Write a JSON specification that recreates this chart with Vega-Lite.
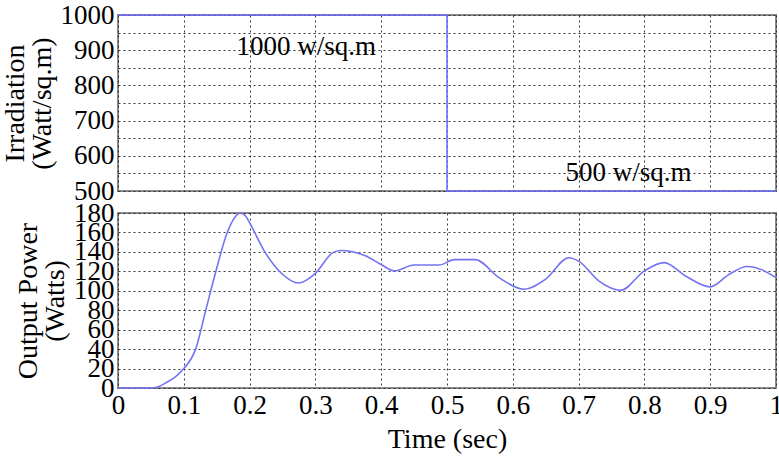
{
  "$schema": "https://vega.github.io/schema/vega-lite/v6.json",
  "padding": {"left": 0, "top": 0, "right": 2, "bottom": 2},
  "background": "white",
  "spacing": 22,
  "bounds": "flush",
  "datasets": {
    "irr": [
      {"t": 0, "v": 1000},
      {"t": 0.5, "v": 1000},
      {"t": 0.5, "v": 500},
      {"t": 1, "v": 500}
    ],
    "notes": [
      {"t": 0.18, "v": 909, "label": "1000 w/sq.m"},
      {"t": 0.68, "v": 551, "label": "500 w/sq.m"}
    ],
    "power": [
      {"t": 0, "p": 0},
      {"t": 0.05, "p": 0},
      {"t": 0.06, "p": 1},
      {"t": 0.072, "p": 5},
      {"t": 0.088, "p": 12},
      {"t": 0.1, "p": 20},
      {"t": 0.118, "p": 40},
      {"t": 0.133, "p": 79},
      {"t": 0.148, "p": 118},
      {"t": 0.166, "p": 160},
      {"t": 0.178, "p": 176},
      {"t": 0.186, "p": 180},
      {"t": 0.195, "p": 176},
      {"t": 0.2, "p": 170},
      {"t": 0.224, "p": 139},
      {"t": 0.25, "p": 117},
      {"t": 0.274, "p": 108},
      {"t": 0.3, "p": 118},
      {"t": 0.326, "p": 139},
      {"t": 0.338, "p": 141.5},
      {"t": 0.376, "p": 136},
      {"t": 0.4, "p": 127},
      {"t": 0.42, "p": 120.5},
      {"t": 0.45, "p": 126.5},
      {"t": 0.488, "p": 126.5},
      {"t": 0.511, "p": 132},
      {"t": 0.543, "p": 132},
      {"t": 0.579, "p": 113.5},
      {"t": 0.617, "p": 101.5},
      {"t": 0.65, "p": 112},
      {"t": 0.685, "p": 134},
      {"t": 0.7, "p": 130.5},
      {"t": 0.731, "p": 110},
      {"t": 0.764, "p": 100.5},
      {"t": 0.8, "p": 120.5},
      {"t": 0.83, "p": 129},
      {"t": 0.863, "p": 115},
      {"t": 0.9, "p": 104},
      {"t": 0.929, "p": 117},
      {"t": 0.956, "p": 125},
      {"t": 0.979, "p": 121.5},
      {"t": 1.0, "p": 113.5}
    ]
  },
  "vconcat": [
    {
      "width": 658,
      "height": 176,
      "encoding": {
        "x": {"field": "t", "type": "quantitative", "scale": {"domain": [0, 1], "nice": false},
              "axis": {"values": [0, 0.1, 0.2, 0.3, 0.4, 0.5, 0.6, 0.7, 0.8, 0.9, 1], "labels": false, "ticks": false, "domain": false, "title": null}},
        "y": {"field": "v", "type": "quantitative", "scale": {"domain": [500, 1000], "nice": false, "zero": false},
              "axis": {"values": [500, 550, 600, 650, 700, 750, 800, 850, 900, 950, 1000],
                       "format": "d",
                       "labelExpr": "datum.value % 100 === 0 ? datum.label : ''",
                       "labelOverlap": false,
                       "title": ["Irradiation", "(Watt/sq.m)"]}}
      },
      "layer": [
        {
          "data": {"name": "irr"},
          "mark": {"type": "line", "color": "#6e6eff", "strokeWidth": 1.6, "clip": false}
        },
        {
          "data": {"name": "notes"},
          "mark": {"type": "text", "align": "left", "baseline": "middle", "font": "Liberation Serif", "fontSize": 27, "color": "black"},
          "encoding": {
            "text": {"field": "label"}
          }
        }
      ]
    },
    {
      "width": 658,
      "height": 175,
      "data": {"name": "power"},
      "mark": {"type": "line", "color": "#7474f5", "strokeWidth": 1.6, "interpolate": "monotone"},
      "encoding": {
        "x": {"field": "t", "type": "quantitative", "scale": {"domain": [0, 1], "nice": false},
              "axis": {"values": [0, 0.1, 0.2, 0.3, 0.4, 0.5, 0.6, 0.7, 0.8, 0.9, 1], "format": "~g", "title": "Time (sec)", "ticks": false, "domain": false, "labelOverlap": false}},
        "y": {"field": "p", "type": "quantitative", "scale": {"domain": [0, 180], "nice": false},
              "axis": {"values": [0, 20, 40, 60, 80, 100, 120, 140, 160, 180], "labelOverlap": false,
                       "title": ["Output Power", "(Watts)"]}}
      }
    }
  ],
  "config": {
    "view": {"stroke": "#8a8a8a", "strokeWidth": 2},
    "axis": {
      "labelFont": "Liberation Serif",
      "titleFont": "Liberation Serif",
      "labelFontSize": 27,
      "titleFontSize": 28,
      "titleFontWeight": "normal",
      "labelColor": "black",
      "titleColor": "black",
      "labelOverlap": false,
      "labelFlush": false,
      "labelPadding": 4,
      "grid": true,
      "gridColor": "#222",
      "gridDash": [2, 3],
      "gridOpacity": 0.9,
      "gridWidth": 1,
      "domain": false,
      "ticks": false,
      "titleLineHeight": 27
    },
    "axisY": {"titlePadding": 4},
    "axisX": {"titlePadding": 7}
  }
}
